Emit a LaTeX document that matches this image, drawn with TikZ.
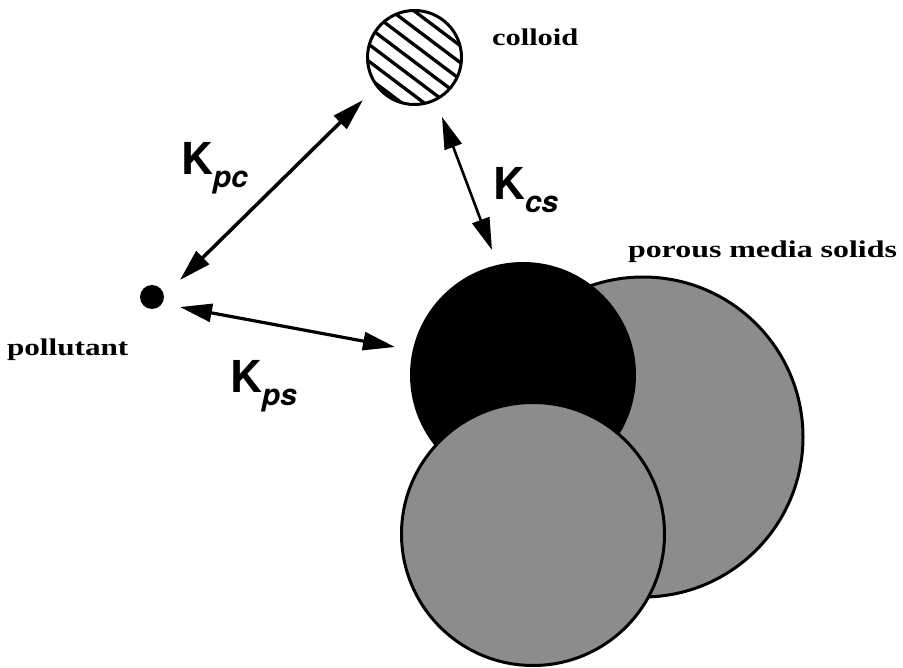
\documentclass[tikz,border=0pt]{standalone}
\usepackage{fontspec}
\setmainfont{Liberation Serif}
\newfontfamily\heros{TeX Gyre Heros}
\usetikzlibrary{arrows.meta}
\newcommand\Klab[1]{{\heros\bfseries\fontsize{44}{44}\selectfont K\raisebox{-13pt}{\fontsize{30}{30}\selectfont\itshape #1}}}
\newcommand\Serlab[2]{\scalebox{#1}[1]{\fontsize{24}{24}\selectfont\bfseries #2}}
\begin{document}
\begin{tikzpicture}[x=1pt,y=-1pt,
  grayball/.style={circle, draw=black, line width=3pt, fill=black!45, inner sep=0pt},
  darkball/.style={circle, fill=black, inner sep=0pt},
  dbl/.style={{Triangle[length=32pt,width=18pt]}-{Triangle[length=32pt,width=18pt]}},
  lab/.style={anchor=base west, inner sep=0pt, outer sep=0pt},
  hatchline/.style={line width=3.3pt}
]
\useasboundingbox (0,0) rectangle (903,668);

% porous media solids
\node[grayball, minimum size=320pt] (back) at (643,437) {};
\node[darkball, minimum size=226pt] (dark) at (523,375) {};
\node[grayball, minimum size=263pt] (front) at (533,534) {};

% colloid (hatched)
\coordinate (cc) at (414.5,57.5);
\begin{scope}
  \clip (cc) circle[radius=47pt];
  \foreach \i in {0,...,6}
    \draw[hatchline, rotate around={-37:(cc)}] (344.5,57.5+44-13.5*\i) -- (484.5,57.5+44-13.5*\i);
\end{scope}
\node[circle, draw=black, line width=3pt, inner sep=0pt, minimum size=94pt] (colloid) at (cc) {};

% pollutant
\node[darkball, minimum size=24pt] (pollutant) at (152,297) {};

% labels
\node[lab] (tcolloid) at (492,46) {\Serlab{1.27}{colloid}};
\node[lab] (tsolids) at (628,258) {\Serlab{1.33}{porous media solids}};
\node[lab] (tpoll) at (7,356) {\Serlab{1.3}{pollutant}};

\node[lab] (kpc) at (181,175) {\Klab{pc}};
\node[lab] (kcs) at (493,200) {\Klab{cs}};
\node[lab] (kps) at (230,393) {\Klab{ps}};

% arrow end points
\coordinate (pcA) at (180,280);
\coordinate (pcB) at (363,100);
\coordinate (csA) at (442,117);
\coordinate (csB) at (492,250);
\coordinate (psA) at (180,307);
\coordinate (psB) at (395,347);

\draw[dbl, line width=3.5pt] (pcA) -- (pcB);
\draw[dbl, line width=2.6pt] (csA) -- (csB);
\draw[dbl, line width=3.2pt] (psA) -- (psB);
\end{tikzpicture}
\end{document}
